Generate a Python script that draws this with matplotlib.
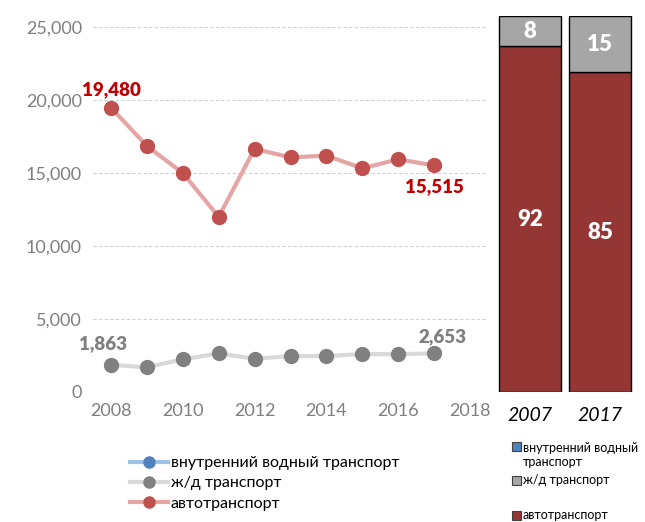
import matplotlib
matplotlib.use("Agg")
import matplotlib.pyplot as plt
from matplotlib.patches import Rectangle

plt.rcParams['font.family'] = ['Lato', 'DejaVu Sans']

# line chart data
years = [2008, 2009, 2010, 2011, 2012, 2013, 2014, 2015, 2016, 2017]
auto = [19480, 16850, 15000, 12000, 16650, 16070, 16190, 15320, 15940, 15515]
rail = [1863, 1690, 2240, 2640, 2280, 2460, 2460, 2600, 2580, 2653]
water = []  # no visible points

# share bars (percent)
bar_years = ['2007', '2017']
share_auto = [92, 85]
share_rail = [8, 15]

W, H = 645, 522
fig = plt.figure(figsize=(W / 100, H / 100), dpi=100)

def px_axes(x0, y0, x1, y1):
    # pixel box (top-left origin) -> figure axes
    return fig.add_axes([x0 / W, 1 - y1 / H, (x1 - x0) / W, (y1 - y0) / H])

ax = px_axes(93, 27, 488, 392)
ax.set_xlim(2007.5, 2018.5)
ax.set_ylim(0, 25000)
for s in ax.spines.values():
    s.set_visible(False)
ax.set_yticks(range(0, 25001, 5000))
ax.set_yticklabels([f"{v:,}" for v in range(0, 25001, 5000)])
ax.set_xticks(range(2008, 2019, 2))
ax.tick_params(length=0, labelsize=13, colors='#7F7F7F', pad=8)
ax.grid(axis='y', color='#D0D0D0', linestyle=(0, (3, 2)), linewidth=0.8)
ax.set_axisbelow(True)

ax.plot(water, water, color='#9DC3E6', lw=3, marker='o', ms=10,
        mfc='#4F81BD', mec='#4F81BD', label='внутренний водный транспорт')
ax.plot(years, rail, color='#D9D9D9', lw=3, marker='o', ms=10,
        mfc='#808080', mec='#808080', label='ж/д транспорт', clip_on=False)
ax.plot(years, auto, color='#E6A5A5', lw=3, marker='o', ms=10,
        mfc='#C0504D', mec='#C0504D', label='автотранспорт', clip_on=False)

lab = dict(textcoords='offset points', ha='center', fontsize=13.5, fontweight='heavy')
ax.annotate(f"{auto[0]:,}", (years[0], auto[0]), xytext=(0, 7), va='bottom', color='#C00000', **lab)
ax.annotate(f"{auto[-1]:,}", (years[-1], auto[-1]), xytext=(0, -9), va='top', color='#C00000', **lab)
ax.annotate(f"{rail[0]:,}", (years[0], rail[0]), xytext=(-6, 9), va='bottom', color='#7F7F7F', **lab)
ax.annotate(f"{rail[-1]:,}", (years[-1], rail[-1]), xytext=(6, 6), va='bottom', color='#7F7F7F', **lab)

leg = fig.legend(handles=ax.get_lines(), loc='upper left', bbox_to_anchor=(122 / W, 1 - 448 / H),
                 frameon=False, fontsize=11.5, handlelength=2.4, labelspacing=0.38,
                 handletextpad=0.15, borderpad=0, markerscale=0.8)

# stacked share bars
bx = px_axes(495, 16, 635, 392)
bx.set_xlim(-0.5, 1.5)
bx.set_ylim(0, 100)
bx.axis('off')
pos = range(len(bar_years))
bx.bar(pos, share_auto, width=0.886, color='#943634', edgecolor='black', lw=1)
bx.bar(pos, share_rail, bottom=share_auto, width=0.886, color='#A6A6A6', edgecolor='black', lw=1)
for i in pos:
    bx.text(i, share_auto[i] / 2, str(share_auto[i]), ha='center', va='center',
            color='white', fontsize=16, fontweight='heavy')
    bx.text(i, share_auto[i] + share_rail[i] / 2, str(share_rail[i]), ha='center', va='center',
            color='white', fontsize=16, fontweight='heavy')
    bx.text(i, -6.3, bar_years[i], ha='center', va='center', fontsize=14, style='italic')

# bar legend
bar_leg = [('внутренний водный\nтранспорт', '#4F81BD', 446.5, 455),
           ('ж/д транспорт', '#A6A6A6', 480, 480),
           ('автотранспорт', '#943634', 515, 515)]
for label, col, ysq, ytx in bar_leg:
    fig.patches.append(Rectangle((512 / W, 1 - (ysq + 4.5) / H), 9 / W, 9 / H,
                                 transform=fig.transFigure, facecolor=col, edgecolor='#404040', lw=0.8))
    fig.text(523 / W, 1 - ytx / H, label, fontsize=9, va='center', ha='left', linespacing=1.28)

fig.savefig('out.png', dpi=100)
